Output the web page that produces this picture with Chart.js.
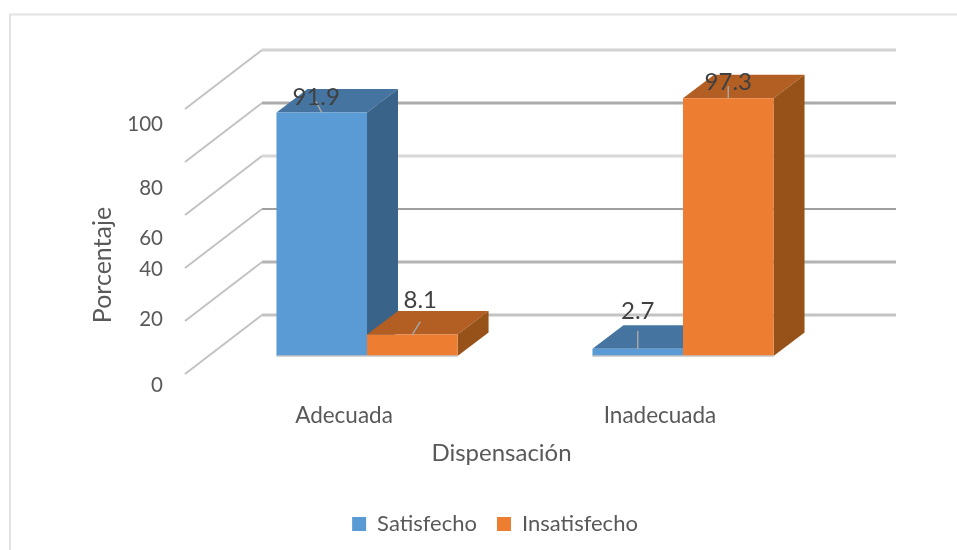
<!DOCTYPE html>
<html><head><meta charset="utf-8">
<style>html,body{margin:0;padding:0;background:#fff}canvas{display:block}</style>
<script src="https://cdn.jsdelivr.net/npm/chart.js@4"></script>
</head><body><canvas id="c" width="957" height="550"></canvas>
<script>
const categories = ['Adecuada', 'Inadecuada'];
const satisfecho = [91.9, 2.7];
const insatisfecho = [8.1, 97.3];
const seriesNames = ['Satisfecho', 'Insatisfecho'];
const yTicks = [0, 20, 40, 60, 80, 100];
const xTitle = 'Dispensación';
const yTitle = 'Porcentaje';

const FONT = 'Lato';
const TXT = '#595959';
const DEPTH = {dx: 31, dy: -23.5};
const faceColors = [{top:'#44749f', side:'#3a6389'}, {top:'#b35e22', side:'#975219'}];
const gridStyle = [['#c4c4c4',3],['#b4b4b4',3],['#a0a0a0',2],['#d8d8d8',3],['#ababab',3],['#d2d2d2',3]];
const tickNudge = [29, 16, 19, 41, 44, 33];
// label offset and leader end relative to the top-centre of each bar [dataset][category]
const labelLayout = [
  [{lx:-5.5,ly:-15,ex:-6,ey:-11},{lx:0,ly:-38,ex:0,ey:-18}],
  [{lx:8,ly:-34,ex:8,ey:-13},{lx:0,ly:-16,ex:0,ey:-12}]
];
const PAD_B = 5;

function poly(ctx, pts, fill){
  ctx.beginPath();
  pts.forEach((p,i)=> i ? ctx.lineTo(p[0],p[1]) : ctx.moveTo(p[0],p[1]));
  ctx.closePath(); ctx.fillStyle = fill; ctx.fill();
}

const scene = {
  id:'scene',
  beforeDraw(chart){
    const {ctx} = chart;
    ctx.save();
    ctx.strokeStyle='#e2e2e2'; ctx.lineWidth=2;
    ctx.beginPath(); ctx.moveTo(10,550); ctx.lineTo(10,14.5); ctx.lineTo(957,14.5); ctx.stroke();
    ctx.restore();
    const ys = chart.scales.y;
    if(!ys._nudged){
      ys.getLabelItems().forEach((it,i)=>{ it.options.translation[1] += tickNudge[i]; });
      ys._computeLabelArea = () => undefined;
      ys._nudged = true;
    }
  },
  beforeDatasetsDraw(chart){
    const {ctx, chartArea:a, scales:{y}} = chart;
    ctx.save();
    const wx0 = a.left+53, wx1 = a.right+55, fx = a.left-24;
    yTicks.forEach((v,i)=>{
      const py = y.getPixelForValue(v);
      ctx.strokeStyle='#c2c2c2'; ctx.lineWidth=2;
      ctx.beginPath(); ctx.moveTo(fx,py+18); ctx.lineTo(wx0,py-41); ctx.stroke();
      ctx.strokeStyle=gridStyle[i][0]; ctx.lineWidth=gridStyle[i][1];
      ctx.beginPath(); ctx.moveTo(wx0,py-41); ctx.lineTo(wx1,py-41); ctx.stroke();
    });
    chart.data.datasets.forEach((ds,di)=>{
      chart.getDatasetMeta(di).data.forEach(b=>{
        const l=b.x-b.width/2, r=b.x+b.width/2, t=b.y, bt=b.base, {dx,dy}=DEPTH;
        poly(ctx,[[l,t],[r,t],[r+dx,t+dy],[l+dx,t+dy]],faceColors[di].top);
        poly(ctx,[[r,t],[r+dx,t+dy],[r+dx,bt+dy],[r,bt]],faceColors[di].side);
      });
    });
    ctx.restore();
  },
  afterDatasetsDraw(chart){
    const {ctx, chartArea:a} = chart;
    ctx.save();
    ctx.textAlign='center'; ctx.textBaseline='middle';
    chart.data.datasets.forEach((ds,di)=>{
      chart.getDatasetMeta(di).data.forEach((b,ci)=>{
        const L=labelLayout[di][ci];
        ctx.strokeStyle='#a6a6a6'; ctx.lineWidth=1.5;
        ctx.beginPath(); ctx.moveTo(b.x,b.y); ctx.lineTo(b.x+L.ex,b.y+L.ey); ctx.stroke();
        ctx.strokeStyle='#c4c4c4'; ctx.lineWidth=1.5;
        ctx.beginPath(); ctx.moveTo(b.x-b.width/2,b.base); ctx.lineTo(b.x+b.width/2,b.base); ctx.stroke();
      });
    });
    chart.data.datasets.forEach((ds,di)=>{
      chart.getDatasetMeta(di).data.forEach((b,ci)=>{
        const L=labelLayout[di][ci];
        ctx.fillStyle='#404040'; ctx.font='24px '+FONT;
        ctx.fillText(ds.data[ci].toFixed(1), b.x+L.lx, b.y+L.ly);
      });
    });
    ctx.fillStyle=TXT; ctx.font='24px '+FONT;
    ctx.fillText(xTitle, 501.5, a.bottom+97);
    ctx.translate(103, 265); ctx.rotate(-Math.PI/2);
    ctx.font='25px '+FONT;
    ctx.fillText(yTitle, 0, 0);
    ctx.restore();
  }
};

new Chart(document.getElementById('c'), {
  type:'bar',
  data:{labels:categories, datasets:[
    {label:seriesNames[0], data:satisfecho, backgroundColor:'#5b9bd5', categoryPercentage:0.573, barPercentage:1},
    {label:seriesNames[1], data:insatisfecho, backgroundColor:'#ed7d31', categoryPercentage:0.573, barPercentage:1}
  ]},
  plugins:[scene],
  options:{
    responsive:false, animation:false,
    layout:{padding:{top:91,left:149,right:116,bottom:PAD_B}},
    plugins:{
      tooltip:{enabled:false},
      legend:{position:'bottom', labels:{boxWidth:14,boxHeight:14,padding:20,color:TXT,font:{family:FONT,size:22}}}
    },
    scales:{
      x:{
        grid:{display:false,drawTicks:false}, border:{display:false},
        ticks:{color:TXT,font:{family:FONT,size:22.5},labelOffset:-23,padding:46,maxRotation:0},
        afterFit(s){ s.height = 550-356-PAD_B-s.chart.legend.height; }
      },
      y:{
        min:0,max:100,
        grid:{display:false,drawTicks:false}, border:{display:false},
        ticks:{stepSize:20,color:TXT,font:{family:FONT,size:20.5},padding:46,autoSkip:false},
        afterFit(s){ s.width = 60; }
      }
    }
  }
});
</script></body></html>
